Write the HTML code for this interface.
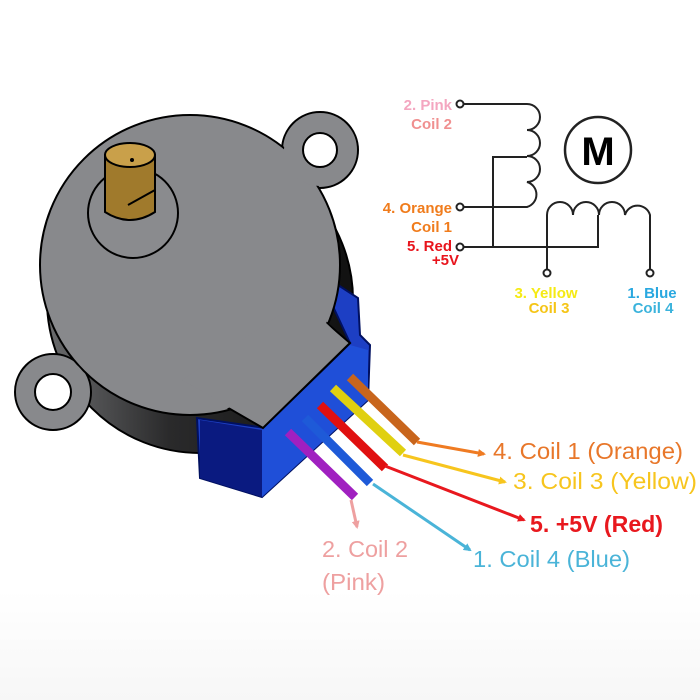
<!DOCTYPE html>
<html><head><meta charset="utf-8"><style>html,body{margin:0;padding:0;background:#fff}svg{display:block}</style></head>
<body>
<svg width="700" height="700" viewBox="0 0 700 700" xmlns="http://www.w3.org/2000/svg" font-family="Liberation Sans, sans-serif">
<defs>
<linearGradient id="side" x1="0" x2="1" y1="0" y2="0">
<stop offset="0" stop-color="#6a6b6d"/><stop offset="0.4" stop-color="#2a2a2b"/><stop offset="1" stop-color="#111"/>
</linearGradient>
<linearGradient id="bot" x1="0" x2="0" y1="0" y2="1"><stop offset="0" stop-color="#fff"/><stop offset="1" stop-color="#f7f7f7"/></linearGradient>
<marker id="ah" markerWidth="8" markerHeight="8" refX="6" refY="4" orient="auto" markerUnits="userSpaceOnUse"><path d="M0,0 L8,4 L0,8 Z" fill="context-stroke"/></marker>
</defs>
<rect x="0" y="590" width="700" height="110" fill="url(#bot)"/>

<circle cx="200" cy="300" r="153" fill="url(#side)" stroke="#000" stroke-width="2"/>
<polygon points="338,285 358,298 360,335 370,345 368,400 262,497 200,478 197,418 265,428 350,343 330,300" fill="#1d3fc4" stroke="#001060" stroke-width="2"/>
<polygon points="200,420 262,430 262,497 200,478" fill="#0a1a80"/>
<polygon points="262,430 350,345 368,350 368,400 262,497" fill="#1f4fd8"/>
<g fill="#88898c" stroke="#000" stroke-width="2">
<circle cx="320" cy="150" r="38"/>
<circle cx="53" cy="392" r="38"/>
<circle cx="190" cy="265" r="150"/>
<polygon points="300,300 350,343 263,428 180,380"/>
</g>
<g fill="#88898c">
<circle cx="190" cy="265" r="148"/>
<polygon points="302,300 347,343 263,425 182,380"/>
<circle cx="320" cy="150" r="36"/>
<circle cx="53" cy="392" r="36"/>
</g>
<circle cx="320" cy="150" r="17" fill="#fff" stroke="#000" stroke-width="2"/>
<circle cx="53" cy="392" r="18" fill="#fff" stroke="#000" stroke-width="2"/>
<circle cx="133" cy="213" r="45" fill="#8a8b8e" stroke="#000" stroke-width="2"/>
<path d="M105,155 L105,212 Q130,228 155,212 L155,155 Z" fill="#a07a2c" stroke="#000" stroke-width="2"/>
<ellipse cx="130" cy="155" rx="25" ry="12" fill="#c9a04a" stroke="#000" stroke-width="2"/>
<path d="M128,205 L155,190" stroke="#000" stroke-width="2"/>
<circle cx="132" cy="160" r="2" fill="#000"/>

<g stroke-linecap="butt" stroke-width="9">
<line x1="350" y1="377" x2="417" y2="442" stroke="#c8651c"/>
<line x1="333" y1="388" x2="403" y2="453" stroke="#e0d010"/>
<line x1="320" y1="405" x2="385" y2="468" stroke="#e01010"/>
<line x1="305" y1="418" x2="370" y2="483" stroke="#1e5ad8"/>
<line x1="288" y1="432" x2="355" y2="497" stroke="#a020c0"/>
</g>
<g stroke-width="3" fill="none">
<line x1="417" y1="442" x2="484" y2="454" stroke="#ef7b22" marker-end="url(#ah)"/>
<line x1="403" y1="455" x2="505" y2="482" stroke="#f7c51e" marker-end="url(#ah)"/>
<line x1="385" y1="466" x2="524" y2="520" stroke="#e8181e" marker-end="url(#ah)"/>
<line x1="373" y1="484" x2="470" y2="550" stroke="#4ab4d8" marker-end="url(#ah)"/>
<line x1="351" y1="500" x2="357" y2="527" stroke="#eea0a0" marker-end="url(#ah)"/>
</g>
<g font-size="23" lengthAdjust="spacingAndGlyphs">
<text x="493" y="459" fill="#e8772a" textLength="190" lengthAdjust="spacingAndGlyphs">4. Coil 1 (Orange)</text>
<text x="513" y="489" fill="#f7c51e" textLength="184" lengthAdjust="spacingAndGlyphs">3. Coil 3 (Yellow)</text>
<text x="530" y="532" fill="#e8181e" font-weight="bold" textLength="133" lengthAdjust="spacingAndGlyphs">5. +5V (Red)</text>
<text x="473" y="567" fill="#4ab4d8" textLength="157" lengthAdjust="spacingAndGlyphs">1. Coil 4 (Blue)</text>
<text x="322" y="557" fill="#eea0a0" textLength="86" lengthAdjust="spacingAndGlyphs">2. Coil 2</text>
<text x="322" y="590" fill="#eea0a0" textLength="63" lengthAdjust="spacingAndGlyphs">(Pink)</text>
</g>

<g stroke="#222" stroke-width="2" fill="none">
<path d="M463,104 H527 A13,13 0 0 1 527,130 A13,13 0 0 1 527,156 A13,13 0 0 1 527,182 A13,13 0 0 1 527,207 H463"/>
<path d="M527,157 H493 V247 H463"/>
<path d="M493,247 H598 V215"/>
<path d="M547,270 V215 A13,13 0 0 1 573,215 A13,13 0 0 1 599,215 A13,13 0 0 1 625,215 A13,13 0 0 1 650,215 V270"/>
<circle cx="460" cy="104" r="3.5" fill="#fff"/>
<circle cx="460" cy="207" r="3.5" fill="#fff"/>
<circle cx="460" cy="247" r="3.5" fill="#fff"/>
<circle cx="547" cy="273" r="3.5" fill="#fff"/>
<circle cx="650" cy="273" r="3.5" fill="#fff"/>
<circle cx="598" cy="150" r="33" stroke-width="2.5"/>
</g>
<text x="598" y="165" font-size="40" font-weight="bold" text-anchor="middle" fill="#000">M</text>
<g font-size="15" font-weight="bold" text-anchor="end">
<text x="452" y="110" fill="#f4a6c0">2. Pink</text>
<text x="452" y="129" fill="#f09090">Coil 2</text>
<text x="452" y="213" fill="#f07c1c">4. Orange</text>
<text x="452" y="232" fill="#f07c1c">Coil 1</text>
<text x="452" y="251" fill="#e8141c">5. Red</text>
<text x="459" y="265" fill="#e8141c">+5V</text>
</g>
<g font-size="15" font-weight="bold" text-anchor="middle">
<text x="546" y="298" fill="#f5ea14">3. Yellow</text>
<text x="549" y="313" fill="#f5c518">Coil 3</text>
<text x="652" y="298" fill="#29a8e0">1. Blue</text>
<text x="653" y="313" fill="#3bb3dc">Coil 4</text>
</g>
</svg>
</body></html>
